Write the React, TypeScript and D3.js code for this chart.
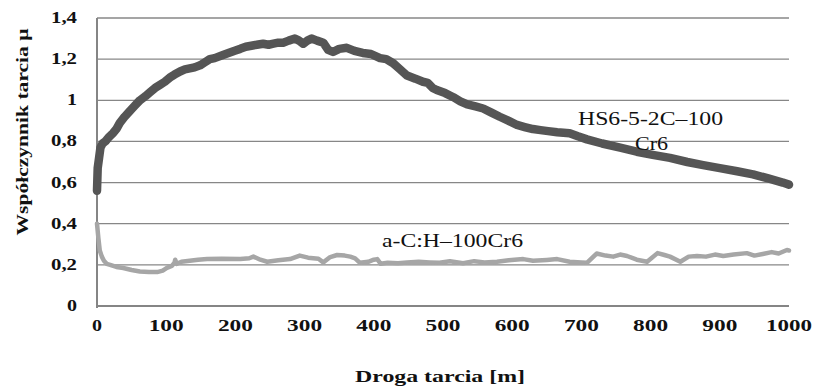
import React from "react";
import * as d3 from "d3";

// Friction coefficient vs sliding distance, two material pairs
const distanceTicks = [0, 100, 200, 300, 400, 500, 600, 700, 800, 900, 1000];
const muTicks = [0, 0.2, 0.4, 0.6, 0.8, 1.0, 1.2, 1.4];
const muTickLabels = ["0", "0,2", "0,4", "0,6", "0,8", "1", "1,2", "1,4"];

// HS6-5-2C – 100Cr6: [distance m, mu]
const hsSeries: [number, number][] = [
  [0, 0.56], [1, 0.67], [3, 0.72], [5, 0.77], [8, 0.79], [12, 0.8], [17, 0.82], [23, 0.84],
  [28, 0.86], [33, 0.89], [40, 0.92], [48, 0.95], [55, 0.975], [62, 1.0], [70, 1.02], [77, 1.04],
  [84, 1.06], [91, 1.075], [98, 1.09], [105, 1.11], [112, 1.125], [120, 1.14], [127, 1.15],
  [134, 1.155], [141, 1.16], [149, 1.17], [156, 1.185], [163, 1.2], [170, 1.205], [182, 1.22],
  [190, 1.23], [198, 1.24], [207, 1.25], [215, 1.26], [223, 1.265], [231, 1.27], [240, 1.275],
  [248, 1.27], [255, 1.275], [262, 1.28], [269, 1.28], [277, 1.29], [286, 1.3], [292, 1.29],
  [298, 1.275], [304, 1.29], [310, 1.3], [318, 1.29], [327, 1.28], [334, 1.245], [341, 1.235],
  [350, 1.25], [361, 1.255], [372, 1.24], [384, 1.23], [396, 1.225], [409, 1.205], [418, 1.2],
  [428, 1.18], [438, 1.15], [448, 1.12], [460, 1.105], [471, 1.09], [478, 1.085], [485, 1.06],
  [491, 1.05], [503, 1.035], [515, 1.015], [525, 0.995], [535, 0.98], [547, 0.97], [558, 0.96],
  [570, 0.94], [582, 0.92], [595, 0.9], [607, 0.88], [618, 0.87], [630, 0.86], [641, 0.855],
  [652, 0.85], [665, 0.845], [683, 0.84], [695, 0.825], [708, 0.81], [730, 0.79], [756, 0.77],
  [780, 0.75], [803, 0.735], [828, 0.72], [853, 0.7], [876, 0.685], [900, 0.67], [925, 0.655],
  [948, 0.64], [970, 0.62], [991, 0.6], [1000, 0.59],
];

// a-C:H – 100Cr6: [distance m, mu]
const achSeries: [number, number][] = [
  [0, 0.4], [2, 0.33], [4, 0.27], [7, 0.24], [10, 0.22], [14, 0.205], [19, 0.2], [28, 0.19],
  [38, 0.185], [50, 0.175], [62, 0.168], [75, 0.165], [87, 0.165], [95, 0.172], [101, 0.185],
  [108, 0.195], [112, 0.21], [113, 0.225], [115, 0.205], [122, 0.215], [134, 0.22], [146, 0.225],
  [159, 0.228], [180, 0.23], [207, 0.228], [220, 0.232], [226, 0.24], [236, 0.225], [246, 0.215],
  [262, 0.222], [279, 0.228], [293, 0.245], [305, 0.235], [320, 0.23], [327, 0.212], [337, 0.238],
  [347, 0.248], [358, 0.245], [366, 0.24], [373, 0.232], [380, 0.21], [392, 0.215], [400, 0.225],
  [405, 0.228], [410, 0.205], [420, 0.21], [435, 0.208], [448, 0.212], [465, 0.215], [481, 0.212],
  [495, 0.21], [510, 0.218], [529, 0.208], [545, 0.218], [560, 0.212], [578, 0.215], [595, 0.222],
  [616, 0.228], [630, 0.22], [650, 0.224], [665, 0.228], [683, 0.215], [700, 0.212], [708, 0.21],
  [722, 0.255], [735, 0.245], [746, 0.24], [756, 0.25], [766, 0.243], [780, 0.225], [795, 0.215],
  [810, 0.257], [820, 0.248], [828, 0.24], [843, 0.215], [855, 0.24], [867, 0.243], [880, 0.24],
  [893, 0.25], [905, 0.243], [920, 0.25], [939, 0.257], [950, 0.245], [962, 0.253], [975, 0.262],
  [985, 0.255], [997, 0.272], [1000, 0.27],
];

const W = 814;
const H = 386;
const plot = { left: 97, right: 789, top: 18, bottom: 306 };
const serif = "'Liberation Serif', 'Times New Roman', serif";

export default function App() {
  const x = d3.scaleLinear().domain([0, 1000]).range([plot.left, plot.right]);
  const y = d3.scaleLinear().domain([0, 1.4]).range([plot.bottom, plot.top]);
  const line = d3
    .line<[number, number]>()
    .x((d) => x(d[0]))
    .y((d) => y(d[1]))
    .curve(d3.curveLinear);

  return (
    <div style={{ position: "fixed", left: 0, top: 0 }}>
      <svg width={W} height={H} style={{ display: "block", background: "#fff" }}>
        {/* horizontal gridlines */}
        {muTicks.filter((t) => t > 0).map((t) => (
          <line key={t} x1={plot.left} x2={plot.right} y1={y(t)} y2={y(t)} stroke="#878787" strokeWidth={1.3} />
        ))}
        {/* axes */}
        <line x1={plot.left} x2={plot.right} y1={y(0)} y2={y(0)} stroke="#858585" strokeWidth={2} />
        <line x1={plot.left} x2={plot.left} y1={plot.top} y2={y(0) + 2} stroke="#858585" strokeWidth={2} />

        {/* series */}
        <path d={line(achSeries) ?? ""} fill="none" stroke="#a6a6a6" strokeWidth={4.5} strokeLinejoin="round" strokeLinecap="round" />
        <path d={line(hsSeries) ?? ""} fill="none" stroke="#555555" strokeWidth={8.5} strokeLinejoin="round" strokeLinecap="round" />

        {/* y tick labels */}
        {muTicks.map((t, i) => {
          const lab = muTickLabels[i];
          const len = lab.length === 1 ? 10 : 26;
          return (
            <text key={t} x={77 - len} y={y(t) + 5} fontFamily={serif} fontWeight="bold" fontSize={16}
              textLength={len} lengthAdjust="spacingAndGlyphs" fill="#111">
              {lab}
            </text>
          );
        })}

        {/* x tick labels */}
        {distanceTicks.map((t) => {
          const lab = String(t);
          const len = lab.length === 1 ? 10 : lab.length === 3 ? 35 : 46;
          return (
            <text key={t} x={x(t) - len / 2} y={331} fontFamily={serif} fontWeight="bold" fontSize={16}
              textLength={len} lengthAdjust="spacingAndGlyphs" fill="#111">
              {lab}
            </text>
          );
        })}

        {/* axis titles */}
        <text x={355} y={382} fontFamily={serif} fontWeight="bold" fontSize={17} textLength={170}
          lengthAdjust="spacingAndGlyphs" fill="#111">
          Droga tarcia [m]
        </text>
        <text transform="translate(28,132) rotate(-90)" textAnchor="middle" fontFamily={serif} fontWeight="bold"
          fontSize={17} textLength={207} lengthAdjust="spacingAndGlyphs" fill="#111">
          Współczynnik tarcia μ
        </text>

        {/* series annotations */}
        <text x={578} y={125} fontFamily={serif} fontSize={19} textLength={145} lengthAdjust="spacingAndGlyphs" fill="#111">
          HS6-5-2C–100
        </text>
        <text x={635} y={150} fontFamily={serif} fontSize={19} textLength={33} lengthAdjust="spacingAndGlyphs" fill="#111">
          Cr6
        </text>
        <text x={382} y={247} fontFamily={serif} fontSize={18} textLength={141} lengthAdjust="spacingAndGlyphs" fill="#111">
          a-C:H–100Cr6
        </text>
      </svg>
    </div>
  );
}
